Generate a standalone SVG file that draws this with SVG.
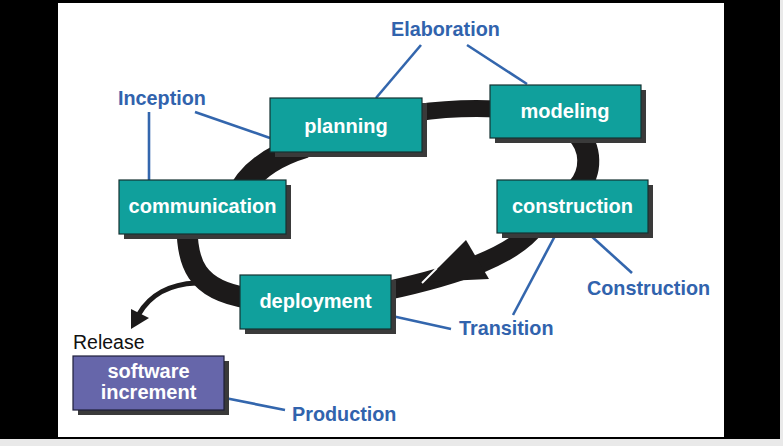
<svg xmlns="http://www.w3.org/2000/svg" width="783" height="446" viewBox="0 0 783 446">
<style>
.box{fill:#10a09c;stroke:#143232;stroke-width:1.2}
.pbox{fill:#6666aa;stroke:#1e1e3a;stroke-width:1.2}
.shadow{fill:#3a3a3a}
.bt{font-family:"Liberation Sans",Arial,sans-serif;font-weight:bold;font-size:20px;fill:#ffffff;text-anchor:middle}
.lbl{font-family:"Liberation Sans",Arial,sans-serif;font-weight:bold;font-size:19.8px;fill:#3163ad}
.rel{font-family:"Liberation Sans",Arial,sans-serif;font-size:19.5px;fill:#111111}
.band{fill:none;stroke:#1c1a1a;stroke-linecap:butt}
.lead{stroke:#3366ad;stroke-width:2.6;fill:none}
</style>
<rect x="0" y="0" width="783" height="446" fill="#e9e9e9"/>
<rect x="0" y="0" width="780" height="439" fill="#000000"/>
<rect x="58" y="3" width="666" height="434" fill="#ffffff"/>

<g id="connectors">
  <path class="band" stroke-width="24" d="M 236,200 Q 252,162 305,146"/>
  <path class="band" stroke-width="17" d="M 415,113 Q 455,107 498,109"/>
  <path class="band" stroke-width="22" d="M 576,132 C 592,148 592,172 578,188"/>
  <path class="band" stroke-width="19" d="M 536,226 C 515,255 460,275 385,291"/>
  <path class="band" stroke-width="21" d="M 187,226 C 187,262 195,290 248,298"/>
  <polygon points="466,240 489,279 424,282" fill="#1c1a1a"/>
  <polyline points="437,268 422,283" fill="none" stroke="#ffffff" stroke-width="2"/>
  <path class="band" stroke-width="5" d="M 196,283 C 170,284 150,295 139,314"/>
  <polygon points="131,329 131,309 149,318" fill="#1c1a1a"/>
  <line class="lead" x1="149" y1="112" x2="149" y2="180"/>
  <line class="lead" x1="195" y1="112" x2="270" y2="138"/>
  <line class="lead" x1="421" y1="45" x2="376" y2="98"/>
  <line class="lead" x1="467" y1="45" x2="527" y2="84"/>
  <line class="lead" x1="556" y1="234" x2="513" y2="315"/>
  <line class="lead" x1="589" y1="234" x2="632" y2="273"/>
  <line class="lead" x1="392" y1="316" x2="451" y2="329"/>
  <line class="lead" x1="225" y1="398" x2="285" y2="410"/>
</g>

<g id="planning">
  <rect class="shadow" x="275" y="103" width="152" height="54"/>
  <rect class="box" x="270" y="98" width="152" height="54"/>
  <text class="bt" x="346" y="133">planning</text>
</g>
<g id="modeling">
  <rect class="shadow" x="495" y="90" width="151" height="53"/>
  <rect class="box" x="490" y="85" width="151" height="53"/>
  <text class="bt" x="565" y="118">modeling</text>
</g>
<g id="communication">
  <rect class="shadow" x="124" y="185" width="167" height="54"/>
  <rect class="box" x="119" y="180" width="167" height="54"/>
  <text class="bt" x="202.5" y="213">communication</text>
</g>
<g id="construction">
  <rect class="shadow" x="502" y="185" width="151" height="53"/>
  <rect class="box" x="497" y="180" width="151" height="53"/>
  <text class="bt" x="572.5" y="213">construction</text>
</g>
<g id="deployment">
  <rect class="shadow" x="245" y="280" width="151" height="54"/>
  <rect class="box" x="240" y="275" width="151" height="54"/>
  <text class="bt" x="315.5" y="308">deployment</text>
</g>
<g id="software-increment">
  <rect class="shadow" x="78" y="361" width="151" height="54"/>
  <rect class="pbox" x="73" y="356" width="151" height="54"/>
  <text class="bt" x="148.5" y="378">software</text>
  <text class="bt" x="148.5" y="399">increment</text>
</g>

<g id="labels">
  <text class="lbl" x="118" y="105">Inception</text>
  <text class="lbl" x="391" y="36">Elaboration</text>
  <text class="lbl" x="587" y="295">Construction</text>
  <text class="lbl" x="459" y="335">Transition</text>
  <text class="lbl" x="292" y="421">Production</text>
  <text class="rel" x="73" y="349">Release</text>
</g>
</svg>
